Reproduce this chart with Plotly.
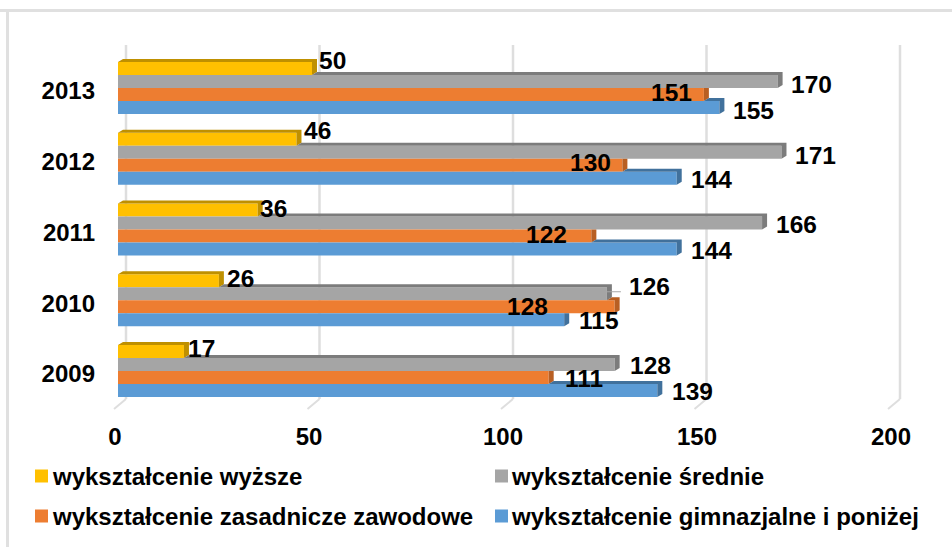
import plotly.graph_objects as go

# ---- data ----
years = ["2013", "2012", "2011", "2010", "2009"]
names = ["wykształcenie wyższe", "wykształcenie średnie",
         "wykształcenie zasadnicze zawodowe", "wykształcenie gimnazjalne i poniżej"]
wyzsze = [50, 46, 36, 26, 17]
srednie = [170, 171, 166, 126, 128]
zasadnicze = [151, 130, 122, 128, 111]
gimnazjalne = [155, 144, 144, 115, 139]
x_ticks = [0, 50, 100, 150, 200]

# ---- styles ----
front = ["#FFC000", "#A5A5A5", "#ED7D31", "#5B9BD5"]
shade = ["#BF9000", "#7C7C7C", "#B85F23", "#41719C"]
series = [wyzsze, srednie, zasadnicze, gimnazjalne]
FONT = "Liberation Sans"
FS = 24.5
TFS = 24
LFS = 24

W, H = 952, 547
PL, PR, PT, PB = 100, 930, 40, 420
X0, KX = 118.0, 3.88
Y0, KY = 88.0, 70.75
BAR = 13.0
DX, DY = 5.0, 3.0

def vx(px):
    return (px - X0) / KX
def vy(py):
    return (py - Y0) / KY

row_off = [-19.5, -6.5, 6.5, 19.5]

# label placement (px relative to bar end / bar centre)
lab_dx = [[6, 6.5, 1, 7, 3], [12, 13, 13, 21, 14], [-54, -53, -66, -109, 15], [13, 13, 13, 14, 14]]
lab_dy = [[-8.5, -9, -2, -2, -3.5], [3, 3, 1, -7, 0.5], [-2.5, -3, -2, 0, 0.5], [2.5, 1, 1, 0.5, 0.5]]

fig = go.Figure()
for s, vals in enumerate(series):
    fig.add_trace(go.Bar(y=list(range(len(years))), x=vals, name=names[s], orientation="h",
                         marker=dict(color=front[s], line=dict(width=0)), showlegend=False,
                         hoverinfo="x+name"))

# 3-D faces derived from the values
for s, vals in enumerate(series):
    xs, ys = [], []
    for i, v in enumerate(vals):
        ctr = i + row_off[s] / KY
        top = ctr - BAR / 2 / KY
        bot = ctr + BAR / 2 / KY
        prev = series[s - 1][i] if s else 0
        ddx, ddy = DX / KX, DY / KY
        if v > prev:
            xs += [prev, v, v + ddx, prev + ddx, prev, None]
            ys += [top, top, top - ddy, top - ddy, top, None]
            xs += [v, v + ddx, v + ddx, v, v, None]
            ys += [top, top - ddy, bot - ddy, bot, top, None]
        else:
            xs += [v, v + ddx, v + ddx, v, v, None]
            ys += [top, top, bot - ddy, bot, top, None]
    fig.add_trace(go.Scatter(x=xs, y=ys, mode="lines", fill="toself", fillcolor=shade[s],
                             line=dict(width=0, color=shade[s]), showlegend=False, hoverinfo="skip"))

# leader line of the 2010 label for the secondary series
lead_v = srednie[3]
fig.add_trace(go.Scatter(x=[lead_v, lead_v + vx(X0 + 14)], y=[3 + vy(Y0 - 3 - 5.5), 3 + vy(Y0 - 3 - 5.5)],
                         mode="lines", line=dict(color="#A6A6A6", width=1), showlegend=False, hoverinfo="skip"))

annotations = []
for s, vals in enumerate(series):
    for i, v in enumerate(vals):
        annotations.append(dict(x=v, y=i, xref="x", yref="y", text=str(v), showarrow=False,
                                xanchor="left", yanchor="middle", borderpad=0,
                                xshift=lab_dx[s][i], yshift=-(row_off[s] + lab_dy[s][i]),
                                font=dict(family=FONT, size=FS, color="#000000", weight=700)))

# legend drawn in figure fractions
leg_sw = [35, 495, 35, 495]
leg_tx = [51, 510, 51, 510]
leg_y = [476, 476, 516, 516]
shapes = []
for s in range(4):
    shapes.append(dict(type="rect", xref="paper", yref="paper", layer="above",
                       x0=(leg_sw[s] - PL) / (PR - PL), x1=(leg_sw[s] + 13 - PL) / (PR - PL),
                       y0=(PB - leg_y[s] - 6.5) / (PB - PT), y1=(PB - leg_y[s] + 6.5) / (PB - PT),
                       fillcolor=front[s], line=dict(width=0)))
    annotations.append(dict(xref="paper", yref="paper", x=(leg_tx[s] - PL) / (PR - PL),
                            y=(PB - leg_y[s]) / (PB - PT), text=names[s], showarrow=False,
                            xanchor="left", yanchor="middle", borderpad=0,
                            font=dict(family=FONT, size=LFS, color="#000000", weight=700)))

# back wall gridlines and slanted floor
GRID = "#DEDEDE"
GRID_K = 3.87 / KX
for k, t in enumerate(x_ticks):
    gx = t * GRID_K + vx(X0 + 8)
    fx = t * GRID_K + vx(X0 - 4)
    shapes.append(dict(type="line", xref="x", yref="y", layer="below", x0=gx, x1=gx,
                       y0=vy(45), y1=vy(399), line=dict(color=GRID, width=2.5)))
    shapes.append(dict(type="line", xref="x", yref="y", layer="below", x0=gx, x1=fx,
                       y0=vy(399), y1=vy(409), line=dict(color=GRID, width=2)))

# outer frame: top and left only
shapes.append(dict(type="line", xref="paper", yref="paper", x0=-0.2, x1=1.1, layer="below",
                   y0=(PB - 10.5) / (PB - PT), y1=(PB - 10.5) / (PB - PT), line=dict(color="#E0E0E0", width=3)))
shapes.append(dict(type="line", xref="paper", yref="paper", x0=(7.5 - PL) / (PR - PL), x1=(7.5 - PL) / (PR - PL),
                   layer="below", y0=(PB - 10) / (PB - PT), y1=(PB - 560) / (PB - PT), line=dict(color="#E0E0E0", width=3)))

fig.update_layout(
    width=W, height=H, autosize=False,
    margin=dict(l=PL, r=W - PR, t=PT, b=H - PB, pad=0),
    paper_bgcolor="#FFFFFF", plot_bgcolor="rgba(0,0,0,0)",
    barmode="group", bargap=1 - 4 * BAR / KY, bargroupgap=0,
    showlegend=False, shapes=shapes, annotations=annotations,
    xaxis=dict(range=[vx(PL), vx(PR)], tickvals=x_ticks, ticktext=[str(t) for t in x_ticks],
               showgrid=False, zeroline=False, showline=False, ticks="", ticklabelshift=-3,
               ticklabelstandoff=0,
               tickfont=dict(family=FONT, size=TFS, color="#000000", weight=700)),
    yaxis=dict(range=[vy(PB), vy(PT)], tickvals=list(range(len(years))), ticktext=years,
               showgrid=False, zeroline=False, showline=False, ticks="", ticklabelshift=-3,
               ticklabelstandoff=4,
               tickfont=dict(family=FONT, size=TFS, color="#000000", weight=700)),
)
fig.write_html("out.html", post_script="document.body.style.margin='0';",
               config={"displayModeBar": False})
